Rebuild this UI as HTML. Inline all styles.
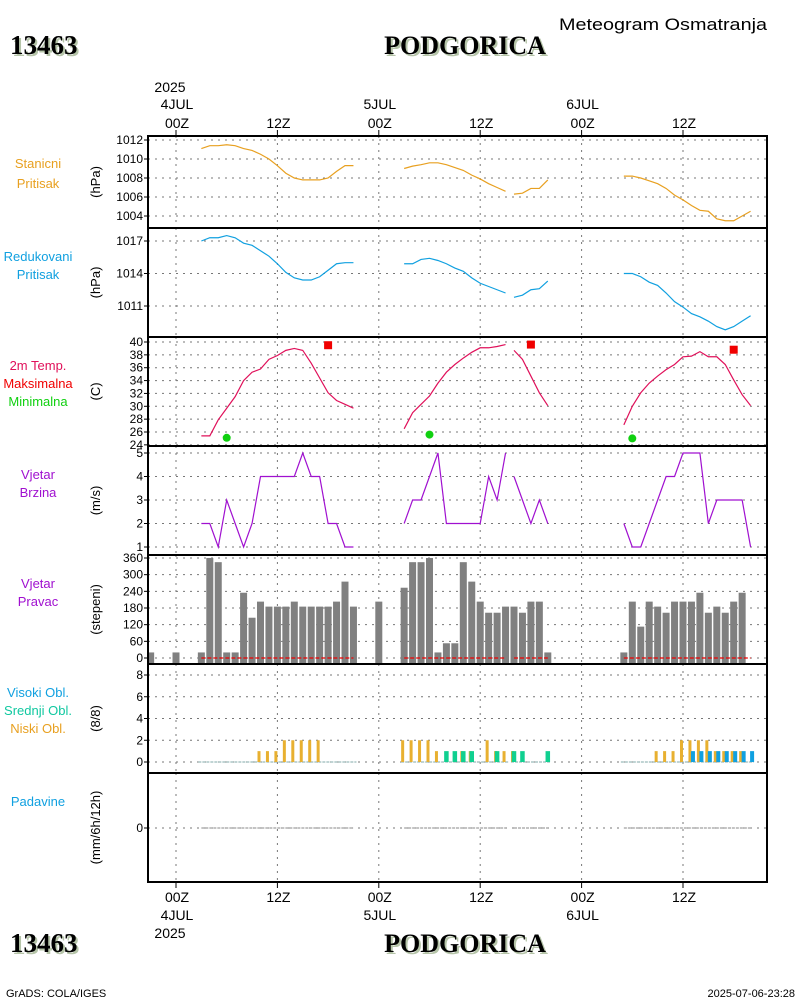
<!DOCTYPE html>
<html><head><meta charset="utf-8"><style>
body{margin:0;background:#fff}
svg{display:block;font-family:"Liberation Sans",sans-serif}
</style></head><body>
<svg id="c" width="800" height="1000" xmlns="http://www.w3.org/2000/svg">
<text x="12" y="56" font-family="Liberation Serif" font-weight="bold" font-size="27" fill="#b5c4a8">13463</text>
<text x="10" y="54" font-family="Liberation Serif" font-weight="bold" font-size="27" fill="#000">13463</text>
<text x="467" y="56" font-family="Liberation Serif" font-weight="bold" font-size="26" fill="#b5c4a8" text-anchor="middle">PODGORICA</text>
<text x="465" y="54" font-family="Liberation Serif" font-weight="bold" font-size="26" fill="#000" text-anchor="middle">PODGORICA</text>
<text x="767" y="30" font-size="17" text-anchor="end" fill="#000" textLength="208" lengthAdjust="spacingAndGlyphs">Meteogram Osmatranja</text>
<text x="12" y="954" font-family="Liberation Serif" font-weight="bold" font-size="27" fill="#b5c4a8">13463</text>
<text x="10" y="952" font-family="Liberation Serif" font-weight="bold" font-size="27" fill="#000">13463</text>
<text x="467" y="954" font-family="Liberation Serif" font-weight="bold" font-size="26" fill="#b5c4a8" text-anchor="middle">PODGORICA</text>
<text x="465" y="952" font-family="Liberation Serif" font-weight="bold" font-size="26" fill="#000" text-anchor="middle">PODGORICA</text>
<text x="6" y="997" font-size="11">GrADS: COLA/IGES</text>
<text x="795" y="997" font-size="11" text-anchor="end">2025-07-06-23:28</text>
<g id="g"></g>
</svg>
<script>
// hours from 2025-07-04 00Z
const hours=[3,4,5,6,7,8,9,10,11,12,13,14,15,16,17,18,19,20,21,27,28,29,30,31,32,33,34,35,36,37,38,39,40,41,42,43,44,53,54,55,56,57,58,59,60,61,62,63,64,65,66,67,68];
const segStarts=[3,27,40,53];
const stnPres=[1011.1,1011.4,1011.4,1011.5,1011.4,1011.1,1010.9,1010.5,1010.0,1009.3,1008.5,1008.0,1007.8,1007.8,1007.8,1008.0,1008.7,1009.3,1009.3,
1009.0,1009.25,1009.4,1009.6,1009.6,1009.4,1009.1,1008.8,1008.3,1007.9,1007.4,1007.0,1006.6,
1006.3,1006.4,1006.9,1006.9,1007.8,
1008.2,1008.2,1008.0,1007.7,1007.4,1006.9,1006.2,1005.7,1005.1,1004.6,1004.5,1003.7,1003.5,1003.5,1004.0,1004.5];
const redPres=[1017.0,1017.3,1017.3,1017.5,1017.3,1016.8,1016.6,1016.1,1015.6,1014.9,1014.1,1013.6,1013.4,1013.4,1013.7,1014.3,1014.9,1015.0,1015.0,
1014.9,1014.9,1015.3,1015.4,1015.2,1014.9,1014.5,1014.2,1013.6,1013.1,1012.8,1012.5,1012.2,
1011.8,1012.0,1012.5,1012.6,1013.3,
1014.0,1014.0,1013.7,1013.2,1012.9,1012.2,1011.4,1010.9,1010.3,1010.0,1009.6,1009.1,1008.8,1009.1,1009.6,1010.1];
const temp=[25.4,25.4,27.9,29.7,31.5,34.0,35.3,35.8,37.3,37.9,38.7,39.0,38.7,36.7,34.4,32.1,30.9,30.3,29.7,
26.5,29.0,30.3,31.6,33.6,35.3,36.5,37.5,38.4,39.1,39.1,39.3,39.6,
38.7,37.3,34.7,32.1,30.1,
27.1,30.0,32.1,33.6,34.7,35.7,36.5,37.7,37.8,38.5,37.7,37.7,36.5,34.1,31.8,30.1];
const tmaxHours=[18,42,66], tmaxVals=[39.5,39.6,38.8];
const tminHours=[6,30,54], tminVals=[25.1,25.6,25.0];
const windSpd=[2,2,1,3,2,1,2,4,4,4,4,4,5,4,4,2,2,1,1,
2,3,3,4,5,2,2,2,2,2,4,3,5,
4,3,2,3,2,
2,1,1,2,3,4,4,5,5,5,2,3,3,3,3,1];
const dirHours=[-3,0,3,4,5,6,7,8,9,10,11,12,13,14,15,16,17,18,19,20,21,24,27,28,29,30,31,32,33,34,35,36,37,38,39,40,41,42,43,44,53,54,55,56,57,58,59,60,61,62,63,64,65,66,67,68];
const windDir=[20,20,20,360,345,20,20,235,145,203,185,185,185,203,185,185,185,185,203,275,185,203,
253,345,345,360,20,53,53,345,275,203,163,163,
185,185,163,203,203,
20,20,203,113,203,185,163,203,203,203,235,163,185,163,203,235];
const lowCloud=[0,0,0,0,0,0,0,1,1,1,2,2,2,2,2,0,0,0,0,
2,2,2,2,1,0,0,1,1,0,2,1,1,
1,0,0,0,0,
0,0,0,0,1,1,1,2,2,2,2,1,1,1,1,0];
const midCloud=[0,0,0,0,0,0,0,0,0,0,0,0,0,0,0,0,0,0,0,
0,0,0,0,0,1,1,1,1,0,0,1,0,
1,1,0,0,1,
0,0,0,0,0,0,0,0,0,0,0,0,0,0,0,0];
const highCloud=[0,0,0,0,0,0,0,0,0,0,0,0,0,0,0,0,0,0,0,
0,0,0,0,0,0,0,0,0,0,0,0,0,
0,0,0,0,0,
0,0,0,0,0,0,0,0,1,1,1,1,1,1,1,1];
const precip=hours.map(()=>0);
const timeTicks=[0,12,24,36,48,60], timeLabels=["00Z","12Z","00Z","12Z","00Z","12Z"];
const dateLabels={0:"4JUL",24:"5JUL",48:"6JUL"};

const NS="http://www.w3.org/2000/svg", G=document.getElementById('g');
const L=148,R=767;
const X=t=>176+8.45*t;
function el(tag,a,txt){const e=document.createElementNS(NS,tag);for(const k in a)e.setAttribute(k,a[k]);if(txt!==undefined)e.textContent=txt;G.appendChild(e);return e;}
const panels=[
 {top:136,bot:228,v0:1012,y0:140,v1:1004,y1:216,ticks:[1004,1006,1008,1010,1012],lab:[["Stanicni","#e8a020",168],["Pritisak","#e8a020",188]],unit:"(hPa)",n:"station-pressure"},
 {top:228,bot:337,v0:1017,y0:241,v1:1011,y1:306,ticks:[1011,1014,1017],lab:[["Redukovani","#10a0e0",261],["Pritisak","#10a0e0",279]],unit:"(hPa)",n:"reduced-pressure"},
 {top:337,bot:446,v0:40,y0:342,v1:26,y1:432,ticks:[24,26,28,30,32,34,36,38,40],lab:[["2m Temp.","#e0105a",370],["Maksimalna","#f00000",388],["Minimalna","#10d010",406]],unit:"(C)",n:"temperature"},
 {top:446,bot:555,v0:5,y0:453,v1:1,y1:547,ticks:[1,2,3,4,5],lab:[["Vjetar","#a010d0",479],["Brzina","#a010d0",497]],unit:"(m/s)",n:"wind-speed"},
 {top:555,bot:664,v0:360,y0:558,v1:0,y1:658,ticks:[0,60,120,180,240,300,360],lab:[["Vjetar","#a010d0",588],["Pravac","#a010d0",606]],unit:"(stepeni)",n:"wind-direction"},
 {top:664,bot:773,v0:8,y0:675,v1:0,y1:762,ticks:[0,2,4,6,8],lab:[["Visoki Obl.","#10a0e0",697],["Srednji Obl.","#10c8a0",715],["Niski Obl.","#e8a020",733]],unit:"(8/8)",n:"clouds"},
 {top:773,bot:882,v0:1,y0:788,v1:0,y1:828,ticks:[0],lab:[["Padavine","#10a0e0",806]],unit:"(mm/6h/12h)",n:"precipitation"}];
panels.forEach(p=>{p.Y=v=>p.y0+(v-p.v0)*(p.y1-p.y0)/(p.v1-p.v0);});
panels.forEach((p,i)=>{
  p.ticks.forEach(v=>{const y=p.Y(v);
    let e=el('line',{x1:L,x2:R,y1:y,y2:y,stroke:'#777','stroke-dasharray':'2,5','stroke-width':1});
    e=el('line',{x1:L-4,x2:L,y1:y,y2:y,stroke:'#000'});
    e=el('text',{x:L-5,y:y+4,'font-size':12,'text-anchor':'end'},String(v));
  });
  timeTicks.forEach(t=>{let e=el('line',{x1:X(t),x2:X(t),y1:p.top,y2:p.bot,stroke:'#777','stroke-dasharray':'2,5'});});
  const cy=(p.top+p.bot)/2;
  p.lab.forEach(l=>{let e=el('text',{x:38,y:l[2],'font-size':13,'text-anchor':'middle',fill:l[1]},l[0]);});
  let e=el('text',{x:0,y:0,'font-size':13,'text-anchor':'middle',transform:`translate(100,${cy}) rotate(-90)`},p.unit);
});
function segs(vals){const out=[];let cur=[];hours.forEach((h,i)=>{if(segStarts.includes(h)&&cur.length){out.push(cur);cur=[];}cur.push([h,vals[i]]);});out.push(cur);return out;}
function line(p,vals,col,name){segs(vals).forEach(s=>{const e=el('polyline',{points:s.map(d=>X(d[0])+','+p.Y(d[1])).join(' '),fill:'none',stroke:col,'stroke-width':1.2});});}
line(panels[0],stnPres,'#e8a020','station-pressure-line');
line(panels[1],redPres,'#10a0e0','reduced-pressure-line');
line(panels[2],temp,'#e0105a','temperature-line');
line(panels[3],windSpd,'#a010d0','wind-speed-line');
tmaxHours.forEach((h,i)=>{const e=el('rect',{x:X(h)-4,y:panels[2].Y(tmaxVals[i])-4,width:8,height:8,fill:'#f00000'});});
tminHours.forEach((h,i)=>{const e=el('circle',{cx:X(h),cy:panels[2].Y(tminVals[i]),r:4,fill:'#10d010'});});
const pd=panels[4];
dirHours.forEach((h,i)=>{const y=pd.Y(windDir[i]);const e=el('rect',{x:X(h)-3.5,y:y,width:7,height:pd.Y(0)-y+5,fill:'#808080'});});
[[3,21],[27,39],[40,44],[53,68]].forEach(r=>{const e=el('line',{x1:X(r[0]),x2:X(r[1]),y1:pd.Y(0),y2:pd.Y(0),stroke:'#f00000','stroke-dasharray':'4,2','stroke-width':1.2});});
const pc=panels[5];
[[3,21],[27,39],[40,44],[53,68]].forEach(r=>{const e=el('line',{x1:X(r[0])-3,x2:X(r[1])+3,y1:pc.Y(0),y2:pc.Y(0),stroke:'#80a8a8','stroke-width':1,'stroke-dasharray':'3,1'});});
hours.forEach((h,i)=>{
  [[lowCloud[i],'#e8b030',-1.5,3],[midCloud[i],'#10d090',0,4.5],[highCloud[i],'#10a0e0',1.5,4]].forEach((c,k)=>{
    if(c[0]>0){const y=pc.Y(c[0]);const e=el('rect',{x:X(h)+c[2]-c[3]/2,y:y,width:c[3],height:pc.Y(0)-y,fill:c[1]});}
  });
});
const pp=panels[6];
segs(precip).forEach(s=>{const e=el('polyline',{points:s.map(d=>X(d[0])+','+pp.Y(d[1])).join(' '),fill:'none',stroke:'#888','stroke-width':1,'stroke-dasharray':'3,1'});});
panels.forEach(p=>{const e=el('rect',{x:L,y:p.top,width:R-L,height:p.bot-p.top,fill:'none',stroke:'#000','stroke-width':2});});
timeTicks.forEach((t,i)=>{
  let e=el('line',{x1:X(t),x2:X(t),y1:130,y2:136,stroke:'#000'});
  e=el('text',{x:X(t)+1,y:128,'font-size':14,'text-anchor':'middle'},timeLabels[i]);
  e=el('line',{x1:X(t),x2:X(t),y1:882,y2:888,stroke:'#000'});
  e=el('text',{x:X(t)+1,y:902,'font-size':14,'text-anchor':'middle'},timeLabels[i]);
  if(dateLabels[t]){
    e=el('text',{x:X(t)+1,y:109,'font-size':14,'text-anchor':'middle'},dateLabels[t]);
    e=el('text',{x:X(t)+1,y:920,'font-size':14,'text-anchor':'middle'},dateLabels[t]);
  }
});
let e=el('text',{x:X(0)-6,y:92,'font-size':14,'text-anchor':'middle'},'2025');
e=el('text',{x:X(0)-6,y:938,'font-size':14,'text-anchor':'middle'},'2025');
</script>
</body></html>
